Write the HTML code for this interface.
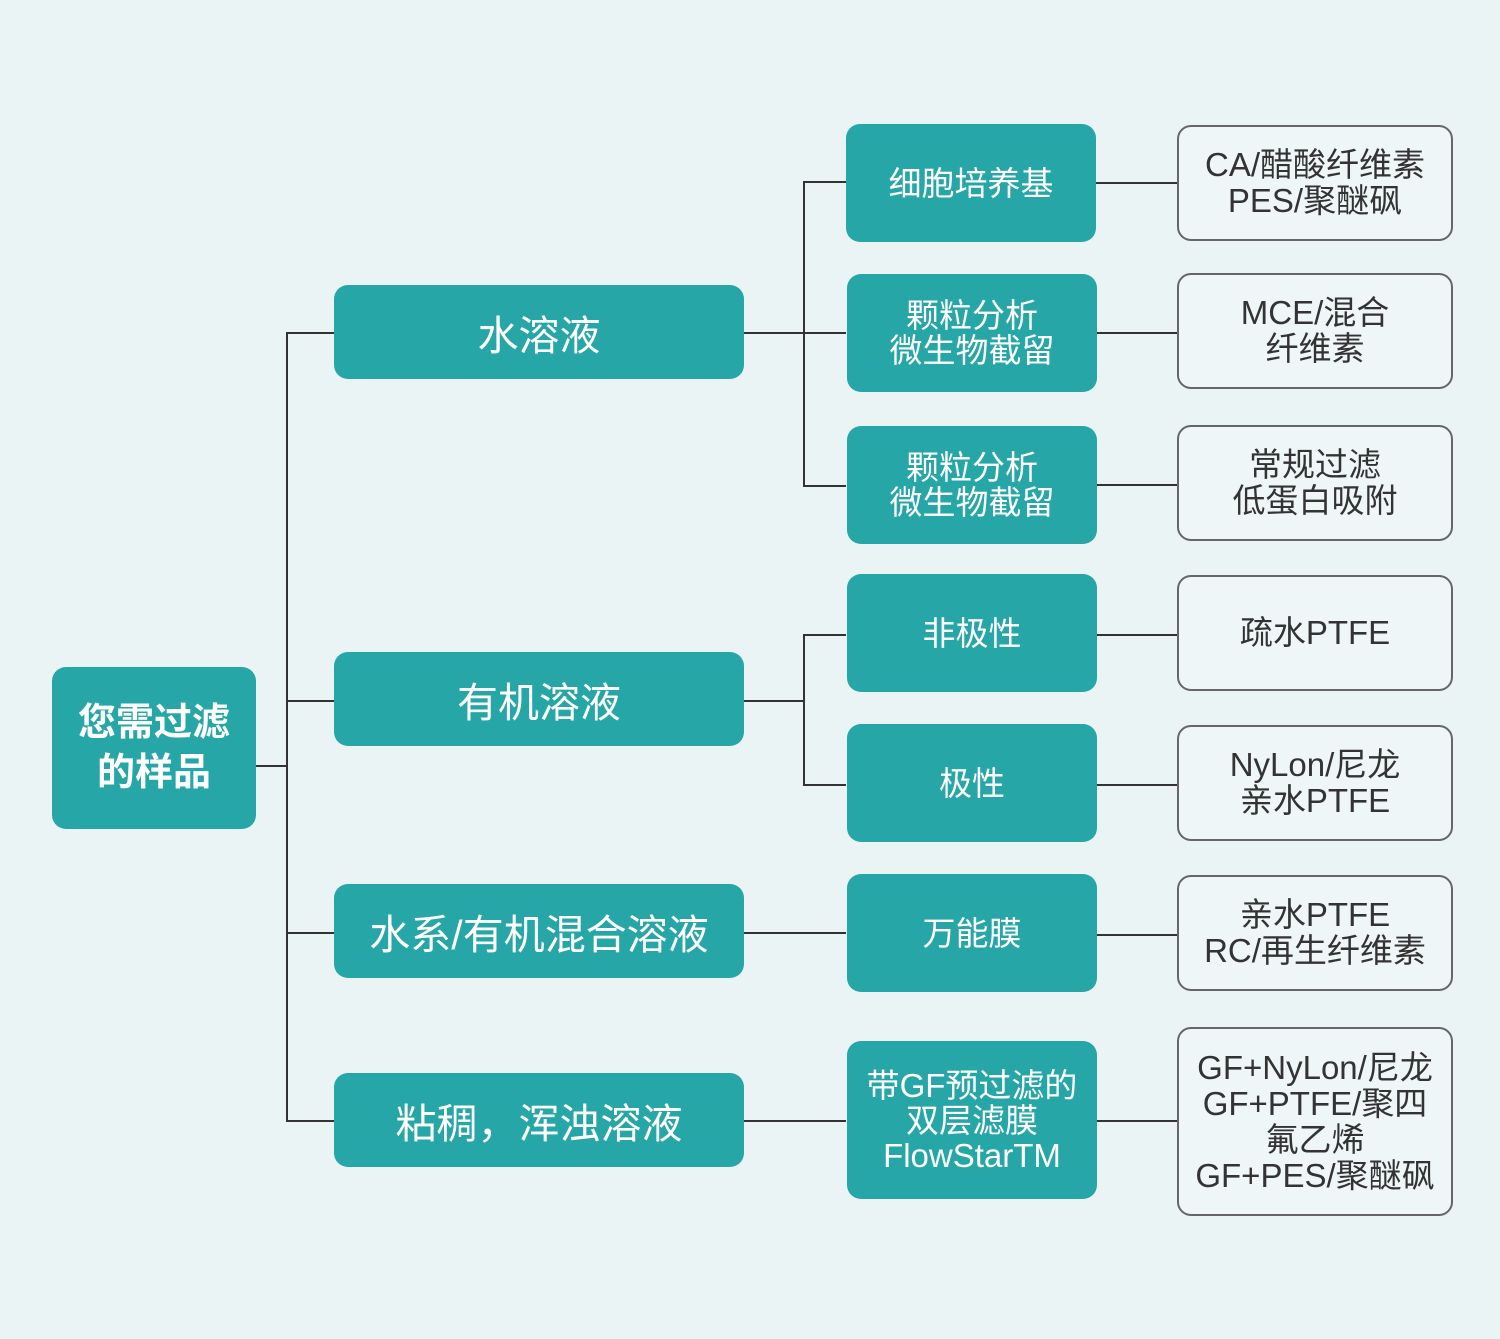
<!DOCTYPE html>
<html><head><meta charset="utf-8"><style>
body{margin:0;width:1500px;height:1339px;background:#eaf4f5;position:relative;overflow:hidden;font-family:"Liberation Sans","Noto Sans CJK SC",sans-serif}
.b{position:absolute;display:flex;align-items:center;justify-content:center;text-align:center;box-sizing:border-box}
.t{background:#27a6a7;color:#fff;border-radius:14px}
.w{border:2.5px solid #666;border-radius:14px;color:#333;font-size:33px;line-height:36px;background:#eef6f7}
.l1{font-size:41px}
.l2{font-size:33px;line-height:35px}
.h{position:absolute;height:2px;background:#333}
.v{position:absolute;width:2px;background:#333}
</style></head><body>
<div class="h" style="left:256px;top:765px;width:31px"></div>
<div class="v" style="left:286px;top:332px;height:790px"></div>
<div class="h" style="left:286px;top:332px;width:48px"></div>
<div class="h" style="left:286px;top:700px;width:48px"></div>
<div class="h" style="left:286px;top:932px;width:48px"></div>
<div class="h" style="left:286px;top:1120px;width:48px"></div>
<div class="h" style="left:744px;top:332px;width:102px"></div>
<div class="v" style="left:803px;top:181px;height:306px"></div>
<div class="h" style="left:803px;top:181px;width:43px"></div>
<div class="h" style="left:803px;top:485px;width:43px"></div>
<div class="h" style="left:744px;top:700px;width:60px"></div>
<div class="v" style="left:803px;top:634px;height:152px"></div>
<div class="h" style="left:803px;top:634px;width:43px"></div>
<div class="h" style="left:803px;top:784px;width:43px"></div>
<div class="h" style="left:744px;top:932px;width:102px"></div>
<div class="h" style="left:744px;top:1120px;width:102px"></div>
<div class="h" style="left:1095px;top:182px;width:82px"></div>
<div class="h" style="left:1095px;top:332px;width:82px"></div>
<div class="h" style="left:1095px;top:484px;width:82px"></div>
<div class="h" style="left:1095px;top:634px;width:82px"></div>
<div class="h" style="left:1095px;top:784px;width:82px"></div>
<div class="h" style="left:1095px;top:934px;width:82px"></div>
<div class="h" style="left:1095px;top:1120px;width:82px"></div>

<div class="b t" style="left:52px;top:667px;width:204px;height:162px;font-size:38px;font-weight:bold;line-height:50px">您需过滤<br>的样品</div>

<div class="b t l1" style="left:334px;top:285px;width:410px;height:94px">水溶液</div>
<div class="b t l1" style="left:334px;top:652px;width:410px;height:94px">有机溶液</div>
<div class="b t l1" style="left:334px;top:884px;width:410px;height:94px">水系/有机混合溶液</div>
<div class="b t l1" style="left:334px;top:1073px;width:410px;height:94px">粘稠，浑浊溶液</div>

<div class="b t l2" style="left:846px;top:124px;width:250px;height:118px">细胞培养基</div>
<div class="b t l2" style="left:847px;top:274px;width:250px;height:118px">颗粒分析<br>微生物截留</div>
<div class="b t l2" style="left:847px;top:426px;width:250px;height:118px">颗粒分析<br>微生物截留</div>
<div class="b t l2" style="left:847px;top:574px;width:250px;height:118px">非极性</div>
<div class="b t l2" style="left:847px;top:724px;width:250px;height:118px">极性</div>
<div class="b t l2" style="left:847px;top:874px;width:250px;height:118px">万能膜</div>
<div class="b t l2" style="left:847px;top:1041px;width:250px;height:158px">带GF预过滤的<br>双层滤膜<br>FlowStarTM</div>

<div class="b w" style="left:1177px;top:125px;width:276px;height:116px">CA/醋酸纤维素<br>PES/聚醚砜</div>
<div class="b w" style="left:1177px;top:273px;width:276px;height:116px">MCE/混合<br>纤维素</div>
<div class="b w" style="left:1177px;top:425px;width:276px;height:116px">常规过滤<br>低蛋白吸附</div>
<div class="b w" style="left:1177px;top:575px;width:276px;height:116px">疏水PTFE</div>
<div class="b w" style="left:1177px;top:725px;width:276px;height:116px">NyLon/尼龙<br>亲水PTFE</div>
<div class="b w" style="left:1177px;top:875px;width:276px;height:116px">亲水PTFE<br>RC/再生纤维素</div>
<div class="b w" style="left:1177px;top:1027px;width:276px;height:189px">GF+NyLon/尼龙<br>GF+PTFE/聚四<br>氟乙烯<br>GF+PES/聚醚砜</div>
</body></html>
